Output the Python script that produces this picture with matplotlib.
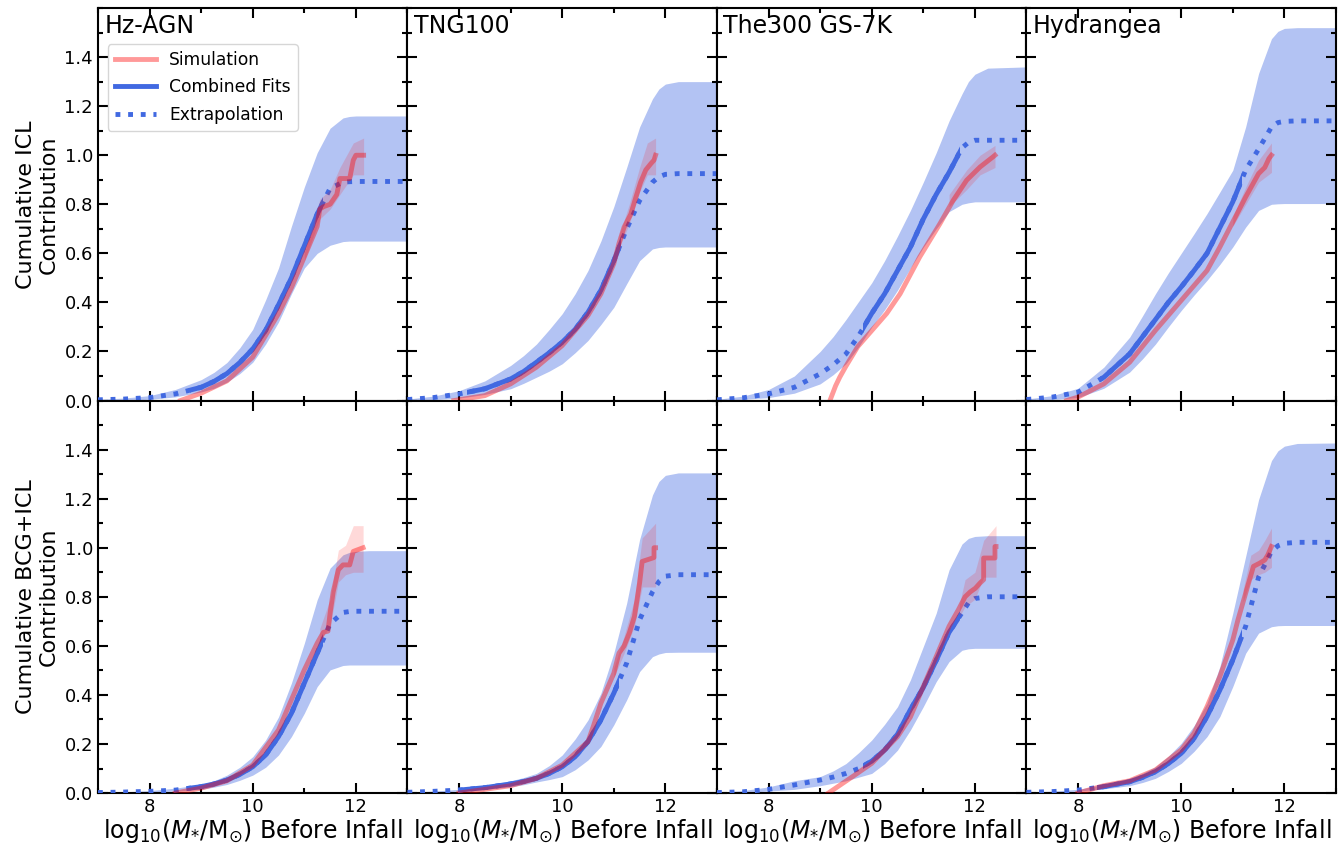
import numpy as np
import matplotlib
matplotlib.use("Agg")
import matplotlib.pyplot as plt
from matplotlib.patches import Rectangle
from matplotlib.lines import Line2D
from matplotlib.ticker import MultipleLocator, FixedLocator

# ---------------- data ----------------
sims = ["Hz-AGN", "TNG100", "The300 GS-7K", "Hydrangea"]
row_labels = ["Cumulative ICL\nContribution", "Cumulative BCG+ICL\nContribution"]

# common x grid for fitted curves and bands
fit_x = [7.0, 7.5, 8.0, 8.5, 9.0, 9.25, 9.5, 9.75, 10.0, 10.25, 10.5, 10.75,
         11.0, 11.25, 11.5, 11.75, 11.875, 12.0, 12.25, 13.0]

# ---- ICL (top row) ----
hz_icl_fit = [0.003, 0.006, 0.012, 0.027, 0.054, 0.078, 0.11, 0.155, 0.21, 0.286, 0.39, 0.50,
              0.63, 0.76, 0.865, 0.89, 0.892, 0.893, 0.893, 0.893]
hz_icl_hi = [0.005, 0.01, 0.02, 0.045, 0.085, 0.115, 0.155, 0.215, 0.29, 0.41, 0.54, 0.71,
             0.87, 1.01, 1.11, 1.152, 1.158, 1.16, 1.16, 1.16]
hz_icl_lo = [0.001, 0.002, 0.005, 0.015, 0.035, 0.05, 0.075, 0.11, 0.156, 0.23, 0.32, 0.435,
             0.54, 0.60, 0.633, 0.648, 0.65, 0.65, 0.65, 0.65]
hz_icl_solid = [8.78, 11.37]
hz_icl_sim_x = [8.6, 9.0, 9.5, 10.0, 10.5, 10.75, 11.0, 11.25, 11.3, 11.37, 11.5, 11.63, 11.69,
                11.88, 11.95, 12.0, 12.15]
hz_icl_sim_y = [0.0, 0.03, 0.08, 0.177, 0.354, 0.46, 0.585, 0.71, 0.78, 0.79, 0.80, 0.84, 0.905,
                0.905, 0.98, 1.0, 1.0]
hz_icl_err_x = [11.0, 11.3, 11.5, 11.69, 11.95, 12.15]
hz_icl_err_lo = [0.57, 0.74, 0.78, 0.84, 0.92, 0.92]
hz_icl_err_hi = [0.60, 0.82, 0.86, 0.95, 1.05, 1.07]

tng_icl_fit = [0.004, 0.012, 0.027, 0.048, 0.088, 0.118, 0.156, 0.195, 0.238, 0.29, 0.36, 0.45,
               0.57, 0.70, 0.815, 0.89, 0.912, 0.922, 0.925, 0.925]
tng_icl_hi = [0.006, 0.018, 0.04, 0.08, 0.143, 0.183, 0.23, 0.29, 0.354, 0.435, 0.53, 0.65,
              0.79, 0.95, 1.115, 1.23, 1.27, 1.29, 1.30, 1.30]
tng_icl_lo = [0.001, 0.004, 0.01, 0.025, 0.048, 0.07, 0.095, 0.12, 0.15, 0.195, 0.245, 0.31,
              0.38, 0.476, 0.57, 0.618, 0.624, 0.626, 0.626, 0.626]
tng_icl_solid = [8.16, 11.13]
tng_icl_sim_x = [7.9, 8.5, 9.0, 9.5, 10.0, 10.5, 10.75, 11.0, 11.1, 11.2, 11.33, 11.43, 11.52,
                 11.62, 11.72, 11.78, 11.81]
tng_icl_sim_y = [0.0, 0.02, 0.068, 0.136, 0.224, 0.347, 0.435, 0.558, 0.64, 0.707, 0.76, 0.83,
                 0.89, 0.94, 0.966, 0.98, 1.0]
tng_icl_err_x = [11.1, 11.3, 11.5, 11.65, 11.81]
tng_icl_err_lo = [0.62, 0.72, 0.85, 0.92, 0.92]
tng_icl_err_hi = [0.67, 0.80, 0.95, 1.05, 1.07]

t300_icl_fit = [0.003, 0.011, 0.027, 0.054, 0.109, 0.145, 0.19, 0.265, 0.355, 0.435, 0.53, 0.625,
                0.74, 0.84, 0.93, 1.03, 1.052, 1.061, 1.061, 1.061]
t300_icl_hi = [0.005, 0.018, 0.045, 0.10, 0.20, 0.26, 0.33, 0.405, 0.48, 0.57, 0.67, 0.775,
               0.89, 1.01, 1.14, 1.25, 1.30, 1.33, 1.355, 1.36]
t300_icl_lo = [0.001, 0.005, 0.012, 0.03, 0.068, 0.105, 0.15, 0.22, 0.30, 0.37, 0.45, 0.54,
               0.625, 0.70, 0.77, 0.80, 0.806, 0.81, 0.81, 0.81]
t300_icl_solid = [9.84, 11.72]
t300_icl_sim_x = [9.19, 9.3, 9.38, 9.5, 9.73, 10.0, 10.29, 10.55, 10.93, 11.32, 11.58, 11.84,
                  12.1, 12.35, 12.39]
t300_icl_sim_y = [0.0, 0.06, 0.095, 0.14, 0.22, 0.285, 0.355, 0.435, 0.585, 0.72, 0.816, 0.898,
                  0.952, 0.993, 1.0]
t300_icl_err_x = [11.5, 11.84, 12.1, 12.39]
t300_icl_err_lo = [0.79, 0.86, 0.92, 0.95]
t300_icl_err_hi = [0.84, 0.94, 1.0, 1.04]

hyd_icl_fit = [0.004, 0.014, 0.034, 0.095, 0.19, 0.26, 0.33, 0.40, 0.463, 0.53, 0.60, 0.705,
               0.81, 0.94, 1.025, 1.115, 1.133, 1.138, 1.14, 1.14]
hyd_icl_hi = [0.006, 0.02, 0.05, 0.136, 0.258, 0.345, 0.435, 0.52, 0.60, 0.68, 0.762, 0.85,
              0.939, 1.116, 1.333, 1.475, 1.505, 1.517, 1.52, 1.52]
hyd_icl_lo = [0.001, 0.004, 0.012, 0.05, 0.116, 0.17, 0.23, 0.30, 0.367, 0.43, 0.49, 0.555,
              0.626, 0.707, 0.775, 0.80, 0.802, 0.803, 0.803, 0.803]
hyd_icl_solid = [8.42, 11.17]
hyd_icl_sim_x = [7.78, 8.0, 8.5, 9.0, 9.5, 10.0, 10.5, 10.75, 11.0, 11.25, 11.5, 11.62, 11.7, 11.75]
hyd_icl_sim_y = [0.0, 0.014, 0.068, 0.156, 0.286, 0.408, 0.53, 0.626, 0.728, 0.83, 0.925, 0.95,
                 0.986, 1.0]
hyd_icl_err_x = [11.0, 11.25, 11.5, 11.75]
hyd_icl_err_lo = [0.71, 0.80, 0.89, 0.93]
hyd_icl_err_hi = [0.75, 0.87, 0.98, 1.05]

# ---- BCG+ICL (bottom row) ----
hz_tot_fit = [0.002, 0.004, 0.007, 0.012, 0.026, 0.037, 0.053, 0.076, 0.107, 0.155, 0.23, 0.325,
              0.448, 0.57, 0.69, 0.736, 0.74, 0.741, 0.741, 0.741]
hz_tot_hi = [0.003, 0.005, 0.01, 0.02, 0.035, 0.05, 0.073, 0.105, 0.148, 0.216, 0.31, 0.448,
             0.61, 0.788, 0.917, 0.971, 0.981, 0.985, 0.988, 0.988]
hz_tot_lo = [0.001, 0.002, 0.004, 0.008, 0.015, 0.024, 0.035, 0.052, 0.073, 0.105, 0.155, 0.23,
             0.325, 0.434, 0.502, 0.52, 0.522, 0.522, 0.522, 0.522]
hz_tot_solid = [8.72, 11.37]
hz_tot_sim_x = [8.5, 9.0, 9.5, 10.0, 10.5, 10.75, 11.0, 11.25, 11.37, 11.46, 11.5, 11.56, 11.66,
                11.75, 11.88, 11.95, 12.14]
hz_tot_sim_y = [0.0, 0.02, 0.05, 0.114, 0.257, 0.38, 0.502, 0.611, 0.655, 0.66, 0.733, 0.82, 0.91,
                0.93, 0.93, 0.985, 1.0]
hz_tot_err_x = [11.3, 11.5, 11.66, 11.8, 11.95, 12.14]
hz_tot_err_lo = [0.62, 0.68, 0.86, 0.89, 0.90, 0.90]
hz_tot_err_hi = [0.67, 0.79, 0.99, 1.01, 1.09, 1.09]

tng_tot_fit = [0.003, 0.007, 0.012, 0.022, 0.037, 0.047, 0.06, 0.08, 0.107, 0.148, 0.21, 0.298,
               0.407, 0.53, 0.706, 0.82, 0.862, 0.884, 0.89, 0.89]
tng_tot_hi = [0.004, 0.008, 0.015, 0.03, 0.05, 0.063, 0.08, 0.112, 0.155, 0.22, 0.298, 0.407,
              0.57, 0.774, 1.033, 1.215, 1.27, 1.295, 1.305, 1.305]
tng_tot_lo = [0.001, 0.003, 0.008, 0.015, 0.025, 0.034, 0.045, 0.055, 0.067, 0.095, 0.135, 0.19,
              0.278, 0.38, 0.495, 0.556, 0.567, 0.573, 0.574, 0.574]
tng_tot_solid = [7.97, 11.1]
tng_tot_sim_x = [8.0, 9.0, 9.5, 10.0, 10.25, 10.5, 10.6, 10.75, 11.0, 11.1, 11.2, 11.3, 11.4,
                 11.5, 11.55, 11.78, 11.78, 11.81]
tng_tot_sim_y = [0.0, 0.03, 0.06, 0.114, 0.162, 0.21, 0.27, 0.366, 0.488, 0.57, 0.60, 0.652,
                 0.72, 0.856, 0.944, 0.96, 1.0, 1.0]
tng_tot_err_x = [11.0, 11.2, 11.4, 11.55, 11.81]
tng_tot_err_lo = [0.47, 0.57, 0.68, 0.84, 0.84]
tng_tot_err_hi = [0.51, 0.64, 0.79, 1.04, 1.10]

t300_tot_fit = [0.002, 0.005, 0.015, 0.033, 0.053, 0.065, 0.08, 0.10, 0.13, 0.175, 0.24, 0.34,
                0.43, 0.54, 0.655, 0.735, 0.775, 0.793, 0.80, 0.80]
t300_tot_hi = [0.003, 0.01, 0.025, 0.05, 0.067, 0.09, 0.12, 0.165, 0.216, 0.28, 0.352, 0.461,
               0.597, 0.733, 0.91, 1.015, 1.038, 1.046, 1.049, 1.049]
t300_tot_lo = [0.001, 0.003, 0.008, 0.015, 0.03, 0.04, 0.05, 0.065, 0.08, 0.12, 0.175, 0.257,
               0.352, 0.454, 0.536, 0.582, 0.588, 0.59, 0.59, 0.59]
t300_tot_solid = [9.84, 11.72]
t300_tot_sim_x = [9.16, 9.58, 10.0, 10.5, 10.75, 11.0, 11.25, 11.5, 11.68, 11.81, 11.91, 12.01,
                  12.10, 12.17, 12.17, 12.39, 12.39, 12.41]
t300_tot_sim_y = [0.0, 0.06, 0.121, 0.23, 0.31, 0.434, 0.556, 0.68, 0.747, 0.80, 0.82, 0.835,
                  0.856, 0.87, 0.958, 0.958, 1.005, 1.005]
t300_tot_err_x = [11.7, 11.81, 12.0, 12.17, 12.41]
t300_tot_err_lo = [0.72, 0.76, 0.79, 0.88, 0.88]
t300_tot_err_hi = [0.77, 0.87, 0.90, 1.03, 1.09]

hyd_tot_fit = [0.003, 0.006, 0.012, 0.026, 0.046, 0.064, 0.087, 0.12, 0.162, 0.223, 0.312, 0.42,
               0.543, 0.68, 0.88, 0.985, 1.008, 1.018, 1.022, 1.022]
hyd_tot_hi = [0.004, 0.008, 0.015, 0.035, 0.06, 0.08, 0.107, 0.15, 0.203, 0.275, 0.366, 0.516,
              0.733, 0.965, 1.196, 1.355, 1.395, 1.414, 1.425, 1.427]
hyd_tot_lo = [0.001, 0.003, 0.008, 0.017, 0.03, 0.043, 0.06, 0.088, 0.121, 0.17, 0.23, 0.312,
              0.434, 0.57, 0.652, 0.678, 0.682, 0.683, 0.683, 0.683]
hyd_tot_solid = [8.36, 11.17]
hyd_tot_sim_x = [8.0, 8.5, 9.0, 9.5, 10.0, 10.25, 10.5, 10.75, 11.0, 11.1, 11.25, 11.4, 11.52,
                 11.62, 11.68, 11.75]
hyd_tot_sim_y = [0.0, 0.03, 0.05, 0.094, 0.176, 0.244, 0.352, 0.475, 0.624, 0.706, 0.815, 0.924,
                 0.937, 0.95, 0.971, 1.005]
hyd_tot_err_x = [11.2, 11.35, 11.5, 11.62, 11.75]
hyd_tot_err_lo = [0.78, 0.87, 0.89, 0.90, 0.92]
hyd_tot_err_hi = [0.83, 0.97, 0.99, 1.03, 1.08]

panels = [
    [
        (hz_icl_fit, hz_icl_lo, hz_icl_hi, hz_icl_solid, hz_icl_sim_x, hz_icl_sim_y,
         hz_icl_err_x, hz_icl_err_lo, hz_icl_err_hi),
        (tng_icl_fit, tng_icl_lo, tng_icl_hi, tng_icl_solid, tng_icl_sim_x, tng_icl_sim_y,
         tng_icl_err_x, tng_icl_err_lo, tng_icl_err_hi),
        (t300_icl_fit, t300_icl_lo, t300_icl_hi, t300_icl_solid, t300_icl_sim_x, t300_icl_sim_y,
         t300_icl_err_x, t300_icl_err_lo, t300_icl_err_hi),
        (hyd_icl_fit, hyd_icl_lo, hyd_icl_hi, hyd_icl_solid, hyd_icl_sim_x, hyd_icl_sim_y,
         hyd_icl_err_x, hyd_icl_err_lo, hyd_icl_err_hi),
    ],
    [
        (hz_tot_fit, hz_tot_lo, hz_tot_hi, hz_tot_solid, hz_tot_sim_x, hz_tot_sim_y,
         hz_tot_err_x, hz_tot_err_lo, hz_tot_err_hi),
        (tng_tot_fit, tng_tot_lo, tng_tot_hi, tng_tot_solid, tng_tot_sim_x, tng_tot_sim_y,
         tng_tot_err_x, tng_tot_err_lo, tng_tot_err_hi),
        (t300_tot_fit, t300_tot_lo, t300_tot_hi, t300_tot_solid, t300_tot_sim_x, t300_tot_sim_y,
         t300_tot_err_x, t300_tot_err_lo, t300_tot_err_hi),
        (hyd_tot_fit, hyd_tot_lo, hyd_tot_hi, hyd_tot_solid, hyd_tot_sim_x, hyd_tot_sim_y,
         hyd_tot_err_x, hyd_tot_err_lo, hyd_tot_err_hi),
    ],
]

x_ticks = [8, 10, 12]
y_ticks = [0.0, 0.2, 0.4, 0.6, 0.8, 1.0, 1.2, 1.4]

# ---------------- plot ----------------
plt.rcParams['font.family'] = ['DejaVu Sans']
plt.rcParams['mathtext.fontset'] = 'dejavusans'

fig, axes = plt.subplots(2, 4, sharex=True, sharey=True, figsize=(13.42, 8.46), dpi=100)
fig.subplots_adjust(left=0.073, right=0.9955, top=0.9905, bottom=0.0626, wspace=0, hspace=0)

blue = 'royalblue'
dots = (0, (1, 1.6))
for r in range(2):
    for c in range(4):
        ax = axes[r, c]
        fit, lo, hi, solid, sx, sy, ex, elo, ehi = panels[r][c]
        ax.fill_between(fit_x, lo, hi, color=blue, alpha=0.4, lw=0, zorder=1)
        ax.plot(fit_x, fit, color=blue, ls=dots, lw=3.5, zorder=3)
        ln, = ax.plot(fit_x, fit, color=blue, ls='-', lw=3.5, zorder=3,
                      solid_capstyle='butt')
        rect = Rectangle((solid[0], -1), solid[1] - solid[0], 5, transform=ax.transData)
        ln.set_clip_path(rect)
        ax.fill_between(ex, elo, ehi, color='red', alpha=0.15, lw=0, zorder=4)
        ax.plot(sx, sy, color='red', alpha=0.4, lw=3.5, zorder=5)

        ax.set_xlim(7, 13)
        ax.set_ylim(0, 1.6)
        ax.xaxis.set_major_locator(FixedLocator(x_ticks))
        ax.xaxis.set_minor_locator(MultipleLocator(1))
        ax.yaxis.set_major_locator(FixedLocator(y_ticks))
        ax.yaxis.set_minor_locator(MultipleLocator(0.1))
        ax.tick_params(which='both', direction='in', top=True, right=True,
                       labelsize=13, width=1.5)
        ax.tick_params(which='major', length=7)
        ax.tick_params(which='minor', length=3.5)
        for s in ax.spines.values():
            s.set_linewidth(1.5)
        if r == 0:
            ax.text(0.02, 0.985, sims[c], transform=ax.transAxes, ha='left', va='top',
                    fontsize=17)
        if r == 1:
            ax.set_xlabel(r'log$_{10}$($M_{*}$/M$_{\odot}$) Before Infall', fontsize=17,
                          labelpad=1)
    axes[r, 0].set_ylabel(row_labels[r], fontsize=16, ha='center', multialignment='center')

# legend
handles = [Line2D([], [], color='red', alpha=0.4, lw=3.5),
           Line2D([], [], color=blue, lw=3.5),
           Line2D([], [], color=blue, lw=3.5, ls=dots)]
axes[0, 0].legend(handles, ['Simulation', 'Combined Fits', 'Extrapolation'],
                  loc='upper left', bbox_to_anchor=(0.032, 0.908), borderaxespad=0,
                  fontsize=12.3, handlelength=2.4, labelspacing=0.55, framealpha=0.8)

fig.savefig('out.png', dpi=100)
